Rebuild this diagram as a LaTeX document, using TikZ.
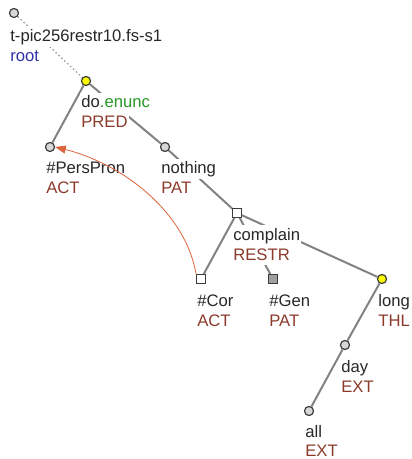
\documentclass[tikz,border=0pt]{standalone}
\usepackage{fontspec}
\setmainfont{Liberation Sans}
\usetikzlibrary{arrows.meta}
\definecolor{edgegray}{RGB}{130,130,130}
\definecolor{nodeline}{RGB}{60,60,60}
\definecolor{nodefill}{RGB}{215,215,215}
\definecolor{genfill}{RGB}{160,160,160}
\definecolor{nodeyellow}{RGB}{250,250,0}
\definecolor{functor}{RGB}{140,58,42}
\definecolor{rootblue}{RGB}{50,50,170}
\definecolor{gramgreen}{RGB}{40,150,40}
\definecolor{corefred}{RGB}{220,100,60}
\definecolor{txtgray}{RGB}{40,40,40}
\pgfdeclarelayer{edges}
\pgfdeclarelayer{labels}
\pgfsetlayers{edges,labels,main}
\tikzset{
  tnode/.style={circle, draw=nodeline, fill=nodefill, line width=0.9pt, inner sep=0pt, minimum size=6.8pt},
  ynode/.style={tnode, fill=nodeyellow},
  qnode/.style={rectangle, draw=nodeline, fill=white, line width=0.9pt, inner sep=0pt, minimum size=6.5pt},
  gnode/.style={qnode, fill=genfill},
  edge/.style={draw=edgegray, line width=1.5pt},
  rootedge/.style={draw=edgegray!80, line width=0.9pt, dash pattern=on 1.2pt off 1.8pt},
  lbl/.style={anchor=base west, fill=white, inner xsep=0.8pt, inner ysep=1.5pt, text height=9.5pt, text depth=2.5pt, text=txtgray},
  fun/.style={lbl, text=functor},
  coref/.style={draw=corefred, line width=0.6pt, -{Triangle[length=8pt,width=6pt]}},
}
\begin{document}
\begin{tikzpicture}[x=0.75pt,y=-0.75pt, font=\fontsize{12.5}{15}\selectfont]
\useasboundingbox (0,0) rectangle (411,459);
% nodes
\node[tnode] (root) at (14,13) {};
\node[ynode] (do) at (86,81) {};
\node[tnode] (pers) at (50,147) {};
\node[tnode] (nothing) at (165,147) {};
\node[qnode] (complain) at (237,213) {};
\node[qnode] (cor) at (201,279) {};
\node[gnode] (gen) at (273,279) {};
\node[ynode] (long) at (382,279) {};
\node[tnode] (day) at (345,345) {};
\node[tnode] (all) at (309,411) {};
% edges
\begin{pgfonlayer}{edges}
\draw[rootedge] (root) -- (do);
\draw[edge] (do) -- (pers);
\draw[edge] (do) -- (nothing);
\draw[edge] (nothing) -- (complain);
\draw[edge] (complain) -- (cor);
\draw[edge] (complain) -- (gen);
\draw[edge] (complain) -- (long);
\draw[edge] (long) -- (day);
\draw[edge] (day) -- (all);
\end{pgfonlayer}
% labels
\begin{pgfonlayer}{labels}
\node[lbl] (rootl1) at (9,42) {t-pic256restr10.fs-s1};
\node[lbl, text=rootblue] (rootl2) at (9,62) {root};
\node[lbl] (dol1) at (80,108) {do\textcolor{gramgreen}{.enunc}};
\node[fun] (dol2) at (80,128) {PRED};
\node[lbl] (persl1) at (45,174) {\#PersPron};
\node[fun] (persl2) at (45,194) {ACT};
\node[lbl] (nothingl1) at (160,174) {nothing};
\node[fun] (nothingl2) at (160,194) {PAT};
\node[lbl] (complainl1) at (232,240) {complain};
\node[fun] (complainl2) at (232,260) {RESTR};
\node[lbl] (corl1) at (196,306) {\#Cor};
\node[fun] (corl2) at (196,326) {ACT};
\node[lbl] (genl1) at (268,306) {\#Gen};
\node[fun] (genl2) at (268,326) {PAT};
\node[lbl] (longl1) at (377,306) {long};
\node[fun] (longl2) at (377,326) {THL};
\node[lbl] (dayl1) at (340,372) {day};
\node[fun] (dayl2) at (340,392) {EXT};
\node[lbl] (alll1) at (304,437) {all};
\node[fun, fill=none, text depth=0pt, inner ysep=0pt] (alll2) at (304,456) {EXT};
\end{pgfonlayer}
% coreference arrow
\draw[coref] (cor.north west) .. controls (185,210) and (120,163) .. (pers.east);
\end{tikzpicture}
\end{document}
